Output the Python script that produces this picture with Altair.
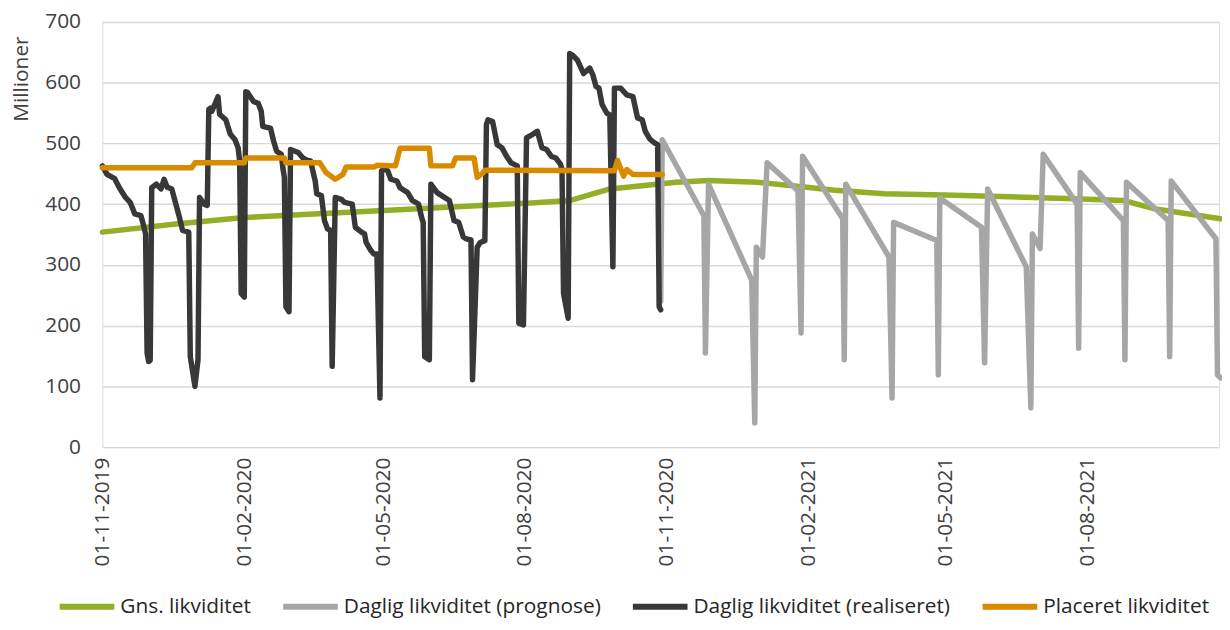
import altair as alt
import pandas as pd

# ---- data (values in millions) ----
gns_dates = ["2019-11-01", "2019-12-17", "2020-02-01", "2020-04-02", "2020-05-05",
             "2020-08-05", "2020-08-30", "2020-09-25", "2020-11-07", "2020-11-28",
             "2020-12-30", "2021-01-23", "2021-02-18", "2021-03-22", "2021-04-30",
             "2021-05-30", "2021-07-23", "2021-08-24", "2021-09-14", "2021-10-26"]
gns_values = [354, 367, 378, 386, 390, 402, 406, 425, 436, 439,
              436, 430, 423, 417, 415, 413, 409, 406, 392, 376]

prog_dates = ["2020-10-28", "2020-10-29", "2020-11-25", "2020-11-26", "2020-11-28",
              "2020-12-26", "2020-12-28", "2020-12-29", "2021-01-02", "2021-01-05",
              "2021-01-25", "2021-01-27", "2021-01-28", "2021-02-23", "2021-02-24",
              "2021-02-25", "2021-03-25", "2021-03-27", "2021-03-28", "2021-04-25",
              "2021-04-26", "2021-04-27", "2021-05-24", "2021-05-26", "2021-05-28",
              "2021-06-22", "2021-06-25", "2021-06-26", "2021-07-01", "2021-07-03",
              "2021-07-25", "2021-07-26", "2021-07-27", "2021-08-24", "2021-08-25",
              "2021-08-26", "2021-09-22", "2021-09-23", "2021-09-24", "2021-10-23",
              "2021-10-24", "2021-10-26"]
prog_values = [240, 506, 381, 155, 433,
               275, 40, 329, 313, 468,
               422, 188, 479, 376, 144,
               433, 313, 81, 370, 340,
               119, 410, 362, 139, 425,
               297, 65, 351, 327, 482,
               400, 163, 452, 373, 144,
               436, 373, 149, 438, 343,
               119, 114]

real_dates = ["2019-11-01", "2019-11-04", "2019-11-09", "2019-11-12", "2019-11-16",
              "2019-11-19", "2019-11-22", "2019-11-26", "2019-11-28", "2019-11-29",
              "2019-11-30", "2019-12-01", "2019-12-02", "2019-12-03", "2019-12-06",
              "2019-12-09", "2019-12-11", "2019-12-13", "2019-12-16", "2019-12-18",
              "2019-12-21", "2019-12-23", "2019-12-27", "2019-12-28", "2019-12-31",
              "2020-01-02", "2020-01-03", "2020-01-06", "2020-01-08", "2020-01-09",
              "2020-01-10", "2020-01-11", "2020-01-15", "2020-01-16", "2020-01-20",
              "2020-01-23", "2020-01-26", "2020-01-28", "2020-01-29", "2020-01-30",
              "2020-02-01", "2020-02-02", "2020-02-03", "2020-02-07", "2020-02-10",
              "2020-02-12", "2020-02-13", "2020-02-18", "2020-02-20", "2020-02-22",
              "2020-02-25", "2020-02-26", "2020-02-27", "2020-02-28", "2020-03-01",
              "2020-03-02", "2020-03-04", "2020-03-07", "2020-03-10", "2020-03-13",
              "2020-03-15", "2020-03-18", "2020-03-19", "2020-03-22", "2020-03-24",
              "2020-03-26", "2020-03-28", "2020-03-29", "2020-03-31", "2020-04-04",
              "2020-04-06", "2020-04-11", "2020-04-13", "2020-04-17", "2020-04-19",
              "2020-04-20", "2020-04-23", "2020-04-25", "2020-04-27", "2020-04-29",
              "2020-04-30", "2020-05-02", "2020-05-04", "2020-05-06", "2020-05-10",
              "2020-05-12", "2020-05-17", "2020-05-20", "2020-05-24", "2020-05-26",
              "2020-05-27", "2020-05-28", "2020-05-31", "2020-06-01", "2020-06-05",
              "2020-06-08", "2020-06-13", "2020-06-16", "2020-06-19", "2020-06-22",
              "2020-06-24", "2020-06-27", "2020-06-28", "2020-07-01", "2020-07-03",
              "2020-07-06", "2020-07-07", "2020-07-08", "2020-07-11", "2020-07-14",
              "2020-07-17", "2020-07-20", "2020-07-23", "2020-07-27", "2020-07-28",
              "2020-07-31", "2020-08-02", "2020-08-04", "2020-08-06", "2020-08-09",
              "2020-08-12", "2020-08-15", "2020-08-18", "2020-08-21", "2020-08-24",
              "2020-08-25", "2020-08-26", "2020-08-29", "2020-08-30", "2020-09-01",
              "2020-09-04", "2020-09-08", "2020-09-12", "2020-09-14", "2020-09-16",
              "2020-09-18", "2020-09-20", "2020-09-23", "2020-09-25", "2020-09-27",
              "2020-09-28", "2020-10-02", "2020-10-06", "2020-10-10", "2020-10-13",
              "2020-10-16", "2020-10-18", "2020-10-21", "2020-10-24", "2020-10-26",
              "2020-10-27", "2020-10-28"]
real_values = [463, 449, 442, 427, 411,
               403, 384, 381, 362, 351,
               155, 141, 143, 427, 433,
               425, 441, 428, 425, 406,
               378, 357, 354, 149, 100,
               144, 411, 400, 398, 556,
               558, 553, 577, 548, 539,
               515, 506, 493, 471, 253,
               247, 585, 584, 569, 566,
               553, 528, 525, 504, 487,
               482, 460, 444, 231, 223,
               490, 488, 485, 476, 472,
               471, 438, 417, 414, 373,
               359, 357, 133, 411, 408,
               403, 400, 362, 354, 351,
               337, 324, 318, 318, 81,
               455, 457, 455, 441, 438,
               427, 419, 406, 400, 378,
               370, 149, 144, 433, 419,
               414, 406, 373, 370, 346,
               343, 341, 111, 329, 337,
               340, 531, 539, 536, 498,
               493, 479, 468, 463, 204,
               201, 509, 512, 515, 520,
               493, 490, 479, 476, 466,
               457, 253, 212, 648, 645,
               637, 615, 624, 613, 594,
               591, 564, 550, 547, 297,
               591, 591, 580, 577, 542,
               539, 520, 507, 501, 498,
               231, 226]

plac_dates = ["2019-11-01", "2019-12-29", "2019-12-31", "2020-02-01", "2020-02-02",
              "2020-02-27", "2020-02-28", "2020-03-21", "2020-03-25", "2020-03-31",
              "2020-04-05", "2020-04-07", "2020-04-25", "2020-04-27", "2020-05-09",
              "2020-05-12", "2020-05-31", "2020-06-01", "2020-06-15", "2020-06-17",
              "2020-06-29", "2020-07-01", "2020-07-05", "2020-07-06", "2020-09-28",
              "2020-09-30", "2020-10-04", "2020-10-06", "2020-10-10", "2020-10-29"]
plac_values = [460, 460, 468, 468, 476,
               476, 468, 468, 452, 441,
               449, 461, 461, 464, 463,
               492, 492, 463, 463, 476,
               476, 444, 452, 456, 455,
               472, 446, 457, 449, 449]

series_names = ["Gns. likviditet", "Daglig likviditet (prognose)",
                "Daglig likviditet (realiseret)", "Placeret likviditet"]
series_colors = ["#93AF27", "#A6A6A6", "#383838", "#D98B00"]

y_ticks = [0, 100, 200, 300, 400, 500, 600, 700]
x_tick_dates = [(2019, 11), (2020, 2), (2020, 5), (2020, 8),
                (2020, 11), (2021, 2), (2021, 5), (2021, 8)]

FONT = "Open Sans"
TXT = "#404040"

def frame(dates, values, name):
    return pd.DataFrame({"date": dates, "value": values, "series": name})

x_enc = alt.X(
    "date:T",
    scale=alt.Scale(
        type="utc",
        domain=[alt.DateTime(year=2019, month=11, date=1, utc=True),
                alt.DateTime(year=2021, month=10, date=25, utc=True)],
        nice=False,
    ),
    axis=alt.Axis(
        values=[alt.DateTime(year=y, month=m, date=1, utc=True) for y, m in x_tick_dates],
        labelExpr="utcFormat(datum.value, '%d-%m-%Y')",
        labelAngle=270, labelPadding=10, labelFlush=False, labelOverlap=False,
        ticks=False, domain=False, grid=False, title=None,
        labelFont=FONT, labelFontSize=21, labelColor=TXT,
    ),
)
y_enc = alt.Y(
    "value:Q",
    scale=alt.Scale(domain=[0, 700], nice=False),
    axis=alt.Axis(
        values=y_ticks, grid=True, gridColor="#D9D9D9", gridWidth=1.5,
        domain=False, ticks=False, labelPadding=22,
        labelFont=FONT, labelFontSize=21, labelColor=TXT,
        title="Millioner", titleFont=FONT, titleFontSize=21, titleColor=TXT,
        titleFontWeight="normal", titleAngle=270, titleX=-81, titleY=57,
        titleAlign="center", titleBaseline="middle",
    ),
)
color_enc = alt.Color(
    "series:N",
    scale=alt.Scale(domain=series_names, range=series_colors),
    legend=alt.Legend(
        title=None, orient="none", direction="horizontal",
        legendX=-46, legendY=558, padding=0,
        symbolType="stroke", symbolSize=3025, symbolStrokeWidth=6,
        labelFont=FONT, labelFontSize=21, labelColor="#262626",
        labelOffset=3, columnPadding=20, labelLimit=400,
    ),
)

def layer(df):
    return alt.Chart(df).mark_line(
        strokeWidth=5.5, strokeCap="round", strokeJoin="round"
    ).encode(x=x_enc, y=y_enc, color=color_enc)

chart = alt.layer(
    layer(frame(gns_dates, gns_values, series_names[0])),
    layer(frame(prog_dates, prog_values, series_names[1])),
    layer(frame(real_dates, real_values, series_names[2])),
    layer(frame(plac_dates, plac_values, series_names[3])),
).properties(
    width=1124, height=428,
    autosize=alt.AutoSizeParams(type="none"),
    padding={"left": 95, "top": 12, "right": 3, "bottom": 174},
).configure_view(stroke=None).configure(background="white")

chart.save("out.html", embed_options={"renderer": "svg", "actions": False})
